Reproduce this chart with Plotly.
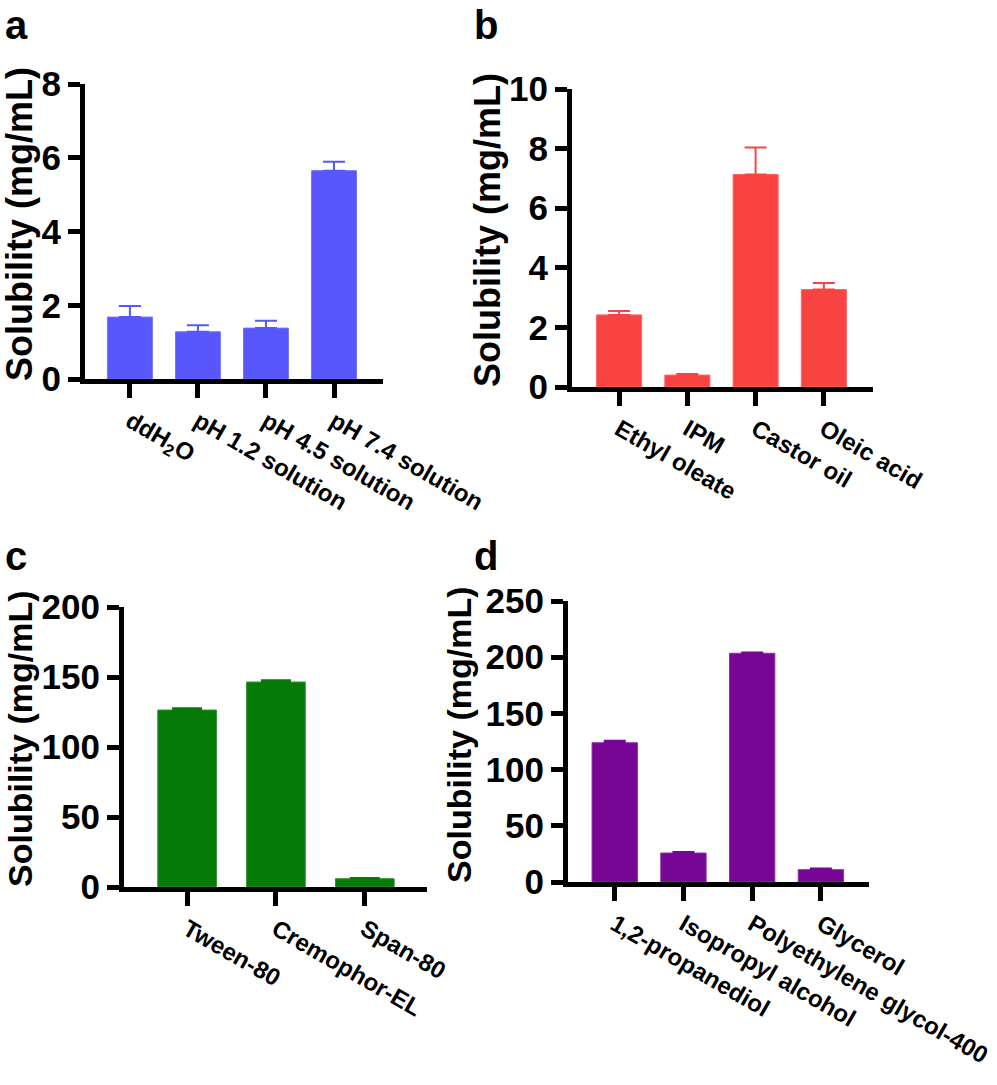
import plotly.graph_objects as go

W, H = 997, 1085

# ---- data ----
cat_a = ["ddH<sub>2</sub>O", "pH 1.2 solution", "pH 4.5 solution", "pH 7.4 solution"]
val_a = [1.68, 1.28, 1.38, 5.65]
err_a = [0.30, 0.18, 0.20, 0.24]

cat_b = ["Ethyl oleate", "IPM", "Castor oil", "Oleic acid"]
val_b = [2.42, 0.40, 7.13, 3.27]
err_b = [0.13, 0.04, 0.91, 0.22]

cat_c = ["Tween-80", "Cremophor-EL", "Span-80"]
val_c = [126.4, 146.4, 5.9]
err_c = [1.2, 1.2, 0.5]

cat_d = ["1,2-propanediol", "Isopropyl alcohol", "Polyethylene glycol-400", "Glycerol"]
val_d = [123.9, 25.8, 203.5, 11.0]
err_d = [1.8, 0.9, 0.6, 1.0]

ticks_a = [0, 2, 4, 6, 8]
ticks_b = [0, 2, 4, 6, 8, 10]
ticks_c = [0, 50, 100, 150, 200]
ticks_d = [0, 50, 100, 150, 200, 250]

FONT = "Arial, Liberation Sans, Helvetica, sans-serif"

panels = [
    dict(c=cat_a, v=val_a, e=err_a, t=ticks_a, fill="#5757FB", edge="#7373FF",
         xd=(85, 383), yd=(84, 379), xr=(-0.66, 3.72), yr=(0, 8), cap=11,
         tp=(20, 224), ts=36, L="a", lp=(16, 1)),
    dict(c=cat_b, v=val_b, e=err_b, t=ticks_b, fill="#F94343", edge="#FF6464",
         xd=(572, 873), yd=(89, 387), xr=(-0.69, 3.72), yr=(0, 10), cap=11,
         tp=(488, 230), ts=36, L="b", lp=(486, 1)),
    dict(c=cat_c, v=val_c, e=err_c, t=ticks_c, fill="#067A06", edge="#2E922E",
         xd=(124, 427), yd=(607, 887), xr=(-0.71, 2.70), yr=(0, 200), cap=15,
         tp=(20, 739), ts=34, L="c", lp=(16, 532)),
    dict(c=cat_d, v=val_d, e=err_d, t=ticks_d, fill="#760693", edge="#9030AA",
         xd=(568, 869), yd=(601, 882), xr=(-0.68, 3.70), yr=(0, 250), cap=11,
         tp=(459, 735), ts=34, L="d", lp=(486, 532)),
]

fig = go.Figure()
layout = dict(width=W, height=H, margin=dict(l=0, r=0, t=0, b=0, autoexpand=False),
              paper_bgcolor="white", plot_bgcolor="white", showlegend=False,
              annotations=[])

for i, p in enumerate(panels):
    n = i + 1
    xa = "x" if n == 1 else f"x{n}"
    ya = "y" if n == 1 else f"y{n}"
    xs = list(range(len(p["c"])))
    fig.add_trace(go.Bar(
        x=xs, y=p["v"], width=0.66, xaxis=xa, yaxis=ya,
        marker=dict(color=p["fill"], line=dict(color=p["edge"], width=1)),
        error_y=dict(type="data", array=p["e"], arrayminus=[0] * len(p["e"]),
                     symmetric=False, color=p["fill"], thickness=2, width=p["cap"]),
    ))
    xkey = "xaxis" if n == 1 else f"xaxis{n}"
    ykey = "yaxis" if n == 1 else f"yaxis{n}"
    layout[xkey] = dict(
        domain=[p["xd"][0] / W, p["xd"][1] / W], anchor=ya, range=list(p["xr"]),
        tickmode="array", tickvals=xs, ticktext=p["c"], tickangle=30,
        showline=True, linecolor="black", linewidth=5, ticks="outside",
        ticklen=14, tickwidth=5, tickcolor="black", showgrid=False, zeroline=False,
        tickfont=dict(family=FONT, size=24, color="black", weight="bold"),
        fixedrange=True, automargin=False,
    )
    layout[ykey] = dict(
        domain=[1 - p["yd"][1] / H, 1 - p["yd"][0] / H], anchor=xa, range=list(p["yr"]),
        tickmode="array", tickvals=p["t"], ticktext=[str(t) for t in p["t"]],
        showline=True, linecolor="black", linewidth=5, ticks="outside",
        ticklen=12, tickwidth=5, tickcolor="black", showgrid=False, zeroline=False,
        tickfont=dict(family=FONT, size=35, color="black", weight="bold"),
        fixedrange=True, automargin=False,
    )
    layout["annotations"].append(dict(
        text="Solubility (mg/mL)", xref="paper", yref="paper",
        x=p["tp"][0] / W, y=1 - p["tp"][1] / H, xanchor="center", yanchor="middle",
        textangle=-90, showarrow=False,
        font=dict(family=FONT, size=p["ts"], color="black", weight="bold"),
    ))
    layout["annotations"].append(dict(
        text=p["L"], xref="paper", yref="paper",
        x=p["lp"][0] / W, y=1 - p["lp"][1] / H, xanchor="center", yanchor="top",
        showarrow=False,
        font=dict(family=FONT, size=40, color="black", weight="bold"),
    ))

fig.update_layout(**layout)
fig.write_html("out.html")
